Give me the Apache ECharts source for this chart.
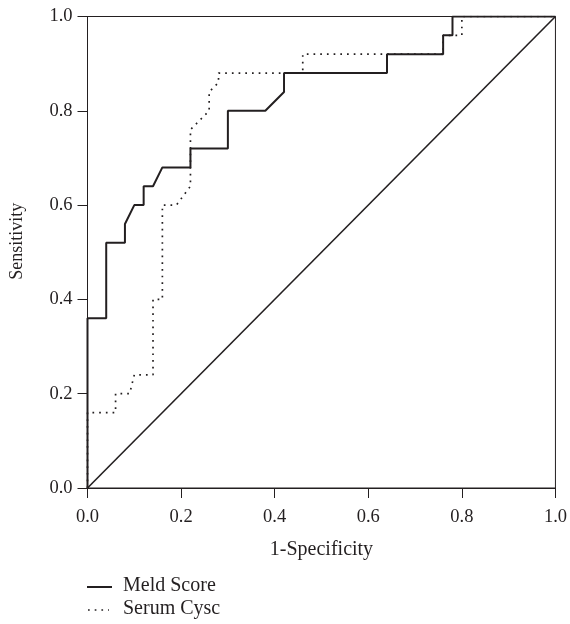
<!DOCTYPE html>
<html>
<head>
<meta charset="utf-8">
<script src="https://cdn.jsdelivr.net/npm/echarts@6/dist/echarts.min.js"></script>
<style>
html,body{margin:0;padding:0;background:#fff;}
#c{width:570px;height:624px;}
</style>
</head>
<body>
<div id="c"></div>
<script>
// Meld Score ROC curve points [1-specificity, sensitivity]
const meldX = [0, 0, 0.04, 0.04, 0.08, 0.08, 0.10, 0.12, 0.12, 0.14, 0.16, 0.22, 0.22, 0.30, 0.30, 0.38, 0.42, 0.42, 0.64, 0.64, 0.76, 0.76, 0.78, 0.78, 1.0];
const meldY = [0, 0.36, 0.36, 0.52, 0.52, 0.56, 0.60, 0.60, 0.64, 0.64, 0.68, 0.68, 0.72, 0.72, 0.80, 0.80, 0.84, 0.88, 0.88, 0.92, 0.92, 0.96, 0.96, 1.0, 1.0];
// Serum Cysc ROC curve points
const cyscX = [0, 0, 0.06, 0.06, 0.09, 0.10, 0.14, 0.14, 0.16, 0.16, 0.19, 0.22, 0.22, 0.24, 0.26, 0.26, 0.28, 0.28, 0.46, 0.46, 0.76, 0.76, 0.80, 0.80, 1.0];
const cyscY = [0, 0.16, 0.16, 0.20, 0.20, 0.24, 0.24, 0.40, 0.40, 0.60, 0.60, 0.64, 0.76, 0.78, 0.80, 0.84, 0.86, 0.88, 0.88, 0.92, 0.92, 0.96, 0.96, 1.0, 1.0];
// Reference diagonal
const refX = [0, 1];
const refY = [0, 1];
const seriesNames = ['Meld Score', 'Serum Cysc'];
const xTitle = '1-Specificity';
const yTitle = 'Sensitivity';

const zip = (a, b) => a.map((v, i) => [v, b[i]]);
const ink = '#231f20';
const font = 'Liberation Serif';
const dotDash = [1.7, 5];

const chart = echarts.init(document.getElementById('c'));
chart.setOption({
  animation: false,
  backgroundColor: '#fff',
  grid: {left: 87.5, right: 13, top: 16.5, bottom: 136, show: true, borderColor: ink, borderWidth: 1},
  xAxis: {
    type: 'value', min: 0, max: 1, interval: 0.2,
    name: xTitle, nameLocation: 'middle', nameGap: 52,
    nameTextStyle: {fontFamily: font, fontSize: 20, color: ink},
    axisLine: {show: true, lineStyle: {color: ink, width: 1}},
    axisTick: {show: true, length: 10, lineStyle: {color: ink}},
    axisLabel: {fontFamily: font, fontSize: 18.5, color: ink, margin: 20, formatter: v => v.toFixed(1)},
    splitLine: {show: false}
  },
  yAxis: {
    type: 'value', min: 0, max: 1, interval: 0.2,
    name: yTitle, nameLocation: 'middle', nameGap: 61,
    nameTextStyle: {fontFamily: font, fontSize: 18, color: ink, padding: [0, 0, 0, 22]},
    axisLine: {show: true, lineStyle: {color: ink, width: 1}},
    axisTick: {show: true, length: 10, lineStyle: {color: ink}},
    axisLabel: {fontFamily: font, fontSize: 18.5, color: ink, margin: 15, formatter: v => v.toFixed(1)},
    splitLine: {show: false}
  },
  graphic: [
    {type: 'line', shape: {x1: 87, y1: 587, x2: 112, y2: 587}, style: {stroke: ink, lineWidth: 2}},
    {type: 'text', left: 123, top: 576, style: {text: seriesNames[0], font: '20px "Liberation Serif"', fill: ink}},
    {type: 'line', shape: {x1: 88, y1: 610, x2: 109, y2: 610}, style: {stroke: ink, lineWidth: 1.7, lineDash: dotDash}},
    {type: 'text', left: 123, top: 599, style: {text: seriesNames[1], font: '20px "Liberation Serif"', fill: ink}}
  ],
  series: [
    {name: seriesNames[1], type: 'line', data: zip(cyscX, cyscY), symbol: 'none', z: 2,
     lineStyle: {color: ink, width: 1.7, type: dotDash, cap: 'butt'}},
    {name: seriesNames[0], type: 'line', data: zip(meldX, meldY), symbol: 'none', z: 3,
     lineStyle: {color: ink, width: 2}},
    {name: 'ref', type: 'line', data: zip(refX, refY), symbol: 'none', z: 1,
     lineStyle: {color: ink, width: 1.6}, silent: true}
  ]
});
</script>
</body>
</html>
